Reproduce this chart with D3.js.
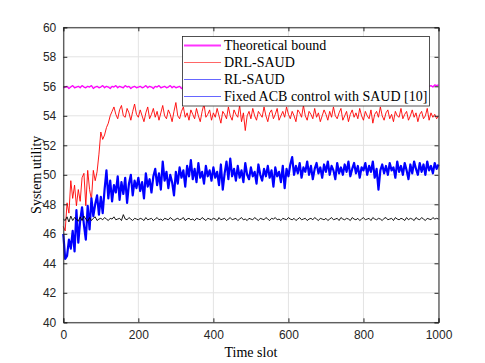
<!DOCTYPE html>
<html><head><meta charset="utf-8">
<script src="https://cdn.jsdelivr.net/npm/d3@7"></script>
<style>body{margin:0;background:#fff}svg{display:block}</style>
</head><body>
<svg id="c" width="485" height="363"></svg>
<script>
const timeSlots = d3.range(0, 1001, 5);

const boundVals = [
55.9,55.95,56.0,55.85,55.95,56.05,55.9,55.95,56.0,55.9,
56.05,55.95,55.9,56.0,55.95,56.05,55.85,55.95,56.0,55.9,
55.95,56.05,55.9,56.0,55.95,55.85,56.0,55.95,56.05,55.9,
56.0,55.95,55.9,56.05,55.95,56.0,55.85,55.95,56.0,55.9,
55.95,56.0,55.9,55.95,56.05,55.9,56.0,55.95,55.85,56.0,
55.95,56.05,55.9,55.95,56.0,55.9,55.95,56.05,55.9,56.0,
55.9,55.95,56.0,55.85,55.95,56.0,55.9,56.05,55.95,55.9,
56.0,55.9,55.95,56.05,55.9,56.0,55.95,55.85,56.0,55.95,
55.9,56.05,55.95,55.9,56.0,55.95,56.05,55.9,55.95,56.0,
55.95,55.9,56.0,55.95,55.85,56.05,55.9,56.0,55.95,55.9,
56.0,55.95,55.9,56.05,55.95,55.9,56.0,55.95,56.05,55.9,
55.95,56.0,55.85,55.95,56.05,55.9,55.95,56.0,55.9,56.05,
55.9,55.95,56.05,55.9,56.0,55.95,55.85,56.0,55.95,55.9,
56.05,55.9,55.95,56.0,55.9,56.05,55.95,55.9,56.0,55.95,
55.9,56.0,55.95,56.05,55.9,55.95,56.0,55.85,55.95,56.05,
55.95,55.9,56.0,55.95,56.05,55.9,56.0,55.95,55.9,56.0,
56.05,55.95,55.9,56.0,55.95,55.85,56.05,55.9,55.95,56.0,
55.9,56.0,55.95,55.9,56.05,55.95,56.0,55.9,55.95,56.05,
55.95,55.9,56.0,56.05,55.9,55.95,56.0,55.95,55.9,56.0,
55.95,56.0,55.9,56.05,55.95,56.0,56.05,55.95,56.1,56.05,
56.1];

const drlVals = [
46.5,46.2,48.1,47.4,49.6,48.4,49.3,47.9,49.0,48.2,
49.8,50.1,47.9,50.3,49.0,48.3,50.3,49.6,50.2,51.4,
52.9,52.4,52.7,53.2,53.5,54.0,54.3,54.6,54.1,53.8,
54.4,54.7,54.0,53.9,54.5,54.2,53.7,54.3,54.8,54.1,
53.9,54.4,54.0,53.6,54.2,54.6,53.8,54.1,54.5,53.9,
54.3,53.7,54.2,54.7,54.0,53.8,54.4,54.1,53.6,54.3,
54.9,54.0,53.8,54.3,54.6,53.9,54.2,53.7,54.4,54.1,
53.8,54.5,54.0,53.6,54.3,54.8,53.9,54.1,54.4,53.7,
54.2,53.9,54.5,54.0,53.5,54.3,54.1,53.8,54.6,54.0,
53.7,54.4,54.1,53.9,54.7,53.6,54.2,53.0,54.0,54.3,
53.8,54.5,54.0,53.7,54.3,54.1,53.9,54.6,54.0,53.6,
54.2,54.4,53.8,54.1,54.5,53.7,54.0,54.3,53.9,54.6,
54.1,53.8,54.3,54.0,53.6,54.4,54.2,53.9,54.7,54.0,
53.7,54.3,54.1,53.8,54.5,53.9,54.2,53.6,54.0,54.4,
54.1,53.7,54.3,53.9,54.6,54.0,53.8,54.2,54.5,53.7,
54.0,54.3,53.6,54.1,54.4,53.9,54.2,53.8,54.5,54.0,
53.7,54.3,54.0,53.8,54.4,53.5,54.1,54.3,53.9,54.6,
54.0,53.7,54.2,54.4,53.8,54.1,53.6,54.3,54.0,53.9,
54.5,53.8,54.1,54.3,53.7,54.0,54.4,53.9,54.2,53.6,
54.1,54.3,53.8,54.0,54.5,53.7,54.2,53.9,54.1,53.8,
54.0];

const rlVals = [
46.0,44.3,44.5,45.6,45.0,46.2,44.8,47.6,45.4,46.9,
47.8,46.6,45.6,47.9,46.3,48.4,47.2,48.0,48.6,47.3,
48.5,47.4,49.0,50.3,48.4,49.6,48.2,49.3,48.8,49.9,
48.3,49.5,48.7,49.8,48.1,49.4,50.0,48.6,49.6,49.1,
49.8,48.9,49.5,48.4,50.1,49.2,49.7,48.8,49.9,50.4,
49.3,50.1,49.0,50.9,49.6,50.2,49.1,50.0,49.5,48.6,
50.2,49.4,50.5,49.8,50.3,49.2,50.6,49.9,51.0,49.7,
50.4,49.5,50.8,49.8,50.2,49.4,50.6,49.9,50.3,49.6,
50.5,49.8,50.2,49.3,50.7,49.0,50.1,50.9,49.7,51.1,
49.9,50.4,49.6,50.6,49.8,50.3,49.5,50.8,50.0,49.7,
50.5,49.9,50.2,49.4,50.7,50.0,49.6,50.4,49.9,50.6,
49.8,50.3,49.2,50.5,49.9,50.2,49.5,50.6,49.1,50.4,
49.9,50.7,51.2,50.0,50.6,50.1,50.8,49.8,50.5,50.2,
50.9,50.0,50.6,49.7,50.4,50.8,50.1,50.5,49.8,50.7,
50.2,50.9,50.0,50.6,50.3,49.7,50.8,50.1,50.5,50.0,
50.7,50.2,50.9,49.9,50.4,50.8,50.1,50.6,49.8,50.5,
50.3,50.8,50.0,50.6,50.2,50.9,49.8,50.4,49.0,50.3,
50.7,50.1,50.6,50.0,50.8,50.3,50.5,49.8,50.9,50.2,
50.6,50.0,50.8,50.3,49.7,50.7,50.1,50.9,50.4,50.0,
50.8,50.2,50.7,50.0,50.9,50.3,50.6,50.1,50.8,50.4,
50.7];

const fixedVals = [
47.0,46.9,47.15,46.8,47.2,46.9,47.1,47.0,46.85,47.15,
46.9,47.2,47.0,46.85,47.1,46.9,47.05,47.15,46.9,47.0,
47.05,46.95,47.1,47.0,46.9,47.05,47.0,47.15,46.95,47.0,
47.05,46.9,47.3,47.0,46.95,47.1,47.0,46.9,47.05,47.0,
46.95,47.05,47.0,46.9,47.1,46.95,47.0,47.05,46.9,47.0,
47.1,46.95,47.0,46.9,47.05,47.0,46.95,47.1,47.0,46.9,
47.0,47.05,46.95,47.0,47.1,46.9,47.0,47.05,46.95,47.0,
46.9,47.05,47.0,46.95,47.1,47.0,46.9,47.05,47.0,46.95,
47.05,47.0,46.9,47.1,46.95,47.0,47.05,46.9,47.0,47.1,
46.95,47.0,47.05,46.9,47.0,47.1,46.95,47.0,46.9,47.05,
47.0,46.95,47.1,47.0,46.9,47.05,47.0,46.95,47.1,47.0,
46.9,47.05,47.0,47.1,46.95,47.0,46.9,47.05,47.0,46.95,
47.1,47.0,46.95,47.05,46.9,47.0,47.1,46.95,47.0,47.05,
46.9,47.0,47.05,46.95,47.1,47.0,46.9,47.05,47.0,46.95,
47.05,46.9,47.0,47.1,46.95,47.0,47.05,46.9,47.1,47.0,
46.95,47.05,47.0,46.9,47.1,47.0,46.95,47.05,46.9,47.0,
47.1,46.95,47.0,47.05,46.9,47.1,47.0,46.95,47.05,47.0,
46.9,47.05,47.1,46.95,47.0,47.05,46.9,47.1,47.0,46.95,
47.05,47.0,46.9,47.1,46.95,47.05,47.0,46.9,47.1,47.0,
46.95,47.1,47.0,46.9,47.05,47.0,46.95,47.1,47.0,47.05,
47.0];

const xTicks = [0, 200, 400, 600, 800, 1000];
const yTicks = [40, 42, 44, 46, 48, 50, 52, 54, 56, 58, 60];
const legendLabels = ["Theoretical bound", "DRL-SAUD", "RL-SAUD", "Fixed ACB control with SAUD [10]"];
const legendColors = ["#ff00ff", "#ff0000", "#0000ff", "#0000ff"];
const xLabel = "Time slot";
const yLabel = "System utility";

const L = 63.3, R = 438.5, T = 27.3, B = 322.3;
const svg = d3.select("#c");
const x = d3.scaleLinear().domain([0, 1000]).range([L, R]);
const y = d3.scaleLinear().domain([40, 60]).range([B, T]);
const axisCol = "#262626";

// grid
const g = svg.append("g");
g.selectAll(".gx").data(xTicks).enter().append("line")
  .attr("x1", d => x(d)).attr("x2", d => x(d)).attr("y1", T).attr("y2", B)
  .attr("stroke", "#e3e3e3").attr("stroke-width", 1);
g.selectAll(".gy").data(yTicks).enter().append("line")
  .attr("x1", L).attr("x2", R).attr("y1", d => y(d)).attr("y2", d => y(d))
  .attr("stroke", "#e3e3e3").attr("stroke-width", 1);

// lines
const series = [
  {vals: boundVals, color: "#ff00ff", w: 1.3},
  {vals: drlVals, color: "#ff0000", w: 0.9},
  {vals: rlVals, color: "#0000ff", w: 2.2},
  {vals: fixedVals, color: "#000000", w: 0.9}
];
const line = d3.line().x((d, i) => x(timeSlots[i])).y(d => y(d));
series.forEach(s => {
  svg.append("path").datum(s.vals).attr("d", line)
    .attr("fill", "none").attr("stroke", s.color).attr("stroke-width", s.w)
    .attr("stroke-linejoin", "round");
});

// axes
const fnt = "'Liberation Sans', Arial, sans-serif";
const ax = svg.append("g").attr("transform", `translate(0,${B})`)
  .call(d3.axisBottom(x).tickValues(xTicks).tickSize(-4).tickPadding(8).tickFormat(d3.format("d")));
const ay = svg.append("g").attr("transform", `translate(${L},0)`)
  .call(d3.axisLeft(y).tickValues(yTicks).tickSize(-4).tickPadding(7).tickFormat(d3.format("d")));
const axt = svg.append("g").attr("transform", `translate(0,${T})`)
  .call(d3.axisTop(x).tickValues(xTicks).tickSize(-4).tickFormat(""));
const ayr = svg.append("g").attr("transform", `translate(${R},0)`)
  .call(d3.axisRight(y).tickValues(yTicks).tickSize(-4).tickFormat(""));
[ax, ay, axt, ayr].forEach(a => {
  a.select(".domain").attr("stroke", axisCol).attr("stroke-width", 1);
  a.selectAll(".tick line").attr("stroke", axisCol);
  a.selectAll("text").attr("fill", axisCol).style("font-family", fnt).style("font-size", "12px");
});

// axis labels
const serif = "'Liberation Serif', 'Times New Roman', serif";
svg.append("text").attr("x", (L + R) / 2).attr("y", 357).attr("text-anchor", "middle")
  .style("font-family", serif).style("font-size", "14px").attr("fill", "#000").text(xLabel);
svg.append("text").attr("transform", `translate(40.5,${(T + B) / 2}) rotate(-90)`)
  .attr("text-anchor", "middle").style("font-family", serif).style("font-size", "14px")
  .attr("fill", "#000").text(yLabel);

// legend
const lg = svg.append("g");
lg.append("rect").attr("x", 182.5).attr("y", 36.5).attr("width", 247).attr("height", 69.5)
  .attr("fill", "#fff").attr("stroke", axisCol).attr("stroke-width", 0.8);
legendLabels.forEach((lab, i) => {
  const yy = 45.5 + i * 17;
  lg.append("line").attr("x1", 184).attr("x2", 221).attr("y1", yy).attr("y2", yy)
    .attr("stroke", legendColors[i]).attr("stroke-width", i === 0 ? 2 : 1)
    .attr("stroke-opacity", i === 0 ? 0.8 : 0.6);
  lg.append("text").attr("x", 224).attr("y", yy + 4.8)
    .style("font-family", serif).style("font-size", "14px").attr("fill", "#000").text(lab);
});
</script>
</body></html>
